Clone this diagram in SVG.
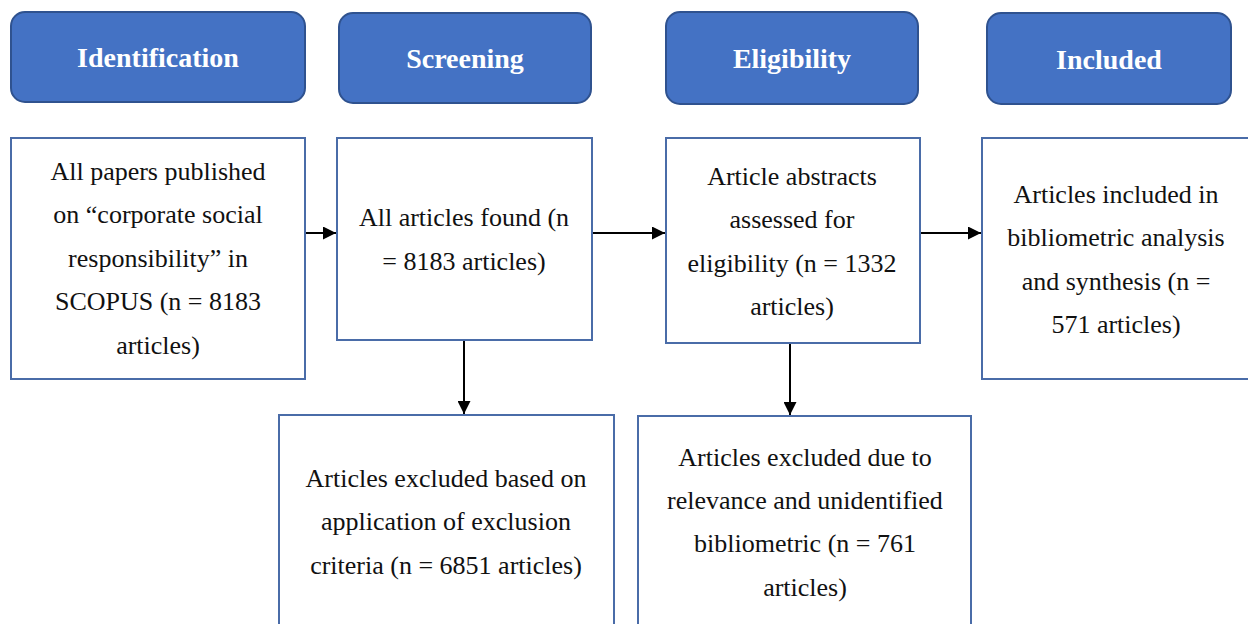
<svg xmlns="http://www.w3.org/2000/svg" width="1248" height="624" viewBox="0 0 1248 624">
  <style>
    .stage { fill: #4472C4; stroke: #2F528F; stroke-width: 2; }
    .stage-label { font-family: "Liberation Serif", "DejaVu Serif", serif; font-size: 28px; font-weight: bold; fill: #FFFFFF; text-anchor: middle; }
    .box { fill: #FFFFFF; stroke: #4A6CA8; stroke-width: 2; }
    .label { font-family: "Liberation Serif", "DejaVu Serif", serif; font-size: 26px; fill: #111111; text-anchor: middle; }
    .edge { stroke: #000000; stroke-width: 2; fill: none; marker-end: url(#arrow); }
  </style>
  <defs>
    <marker id="arrow" viewBox="0 0 10 10" refX="10" refY="5" markerWidth="14" markerHeight="13" markerUnits="userSpaceOnUse" orient="auto">
      <path d="M0,0 L10,5 L0,10 z" fill="#000000"/>
    </marker>
  </defs>
  <rect width="1248" height="624" fill="#FFFFFF"/>

  <!-- stage headers -->
  <g id="stage-identification">
    <rect class="stage" x="11" y="12" width="294" height="90" rx="14"/>
    <text class="stage-label" x="158" y="67">Identification</text>
  </g>
  <g id="stage-screening">
    <rect class="stage" x="339" y="13" width="252" height="90" rx="14"/>
    <text class="stage-label" x="465" y="68">Screening</text>
  </g>
  <g id="stage-eligibility">
    <rect class="stage" x="666" y="12" width="252" height="92" rx="14"/>
    <text class="stage-label" x="792" y="68">Eligibility</text>
  </g>
  <g id="stage-included">
    <rect class="stage" x="987" y="13" width="244" height="91" rx="14"/>
    <text class="stage-label" x="1109" y="69">Included</text>
  </g>

  <!-- process boxes -->
  <g id="node-identified">
    <rect class="box" x="11" y="138" width="294" height="241"/>
    <text class="label" x="158" y="180">All papers published</text>
    <text class="label" x="158" y="223">on “corporate social</text>
    <text class="label" x="158" y="267">responsibility” in</text>
    <text class="label" x="158" y="310">SCOPUS (n = 8183</text>
    <text class="label" x="158" y="354">articles)</text>
  </g>
  <g id="node-screened">
    <rect class="box" x="337" y="138" width="255" height="202"/>
    <text class="label" x="464" y="226">All articles found (n</text>
    <text class="label" x="464" y="270">= 8183 articles)</text>
  </g>
  <g id="node-eligible">
    <rect class="box" x="666" y="138" width="254" height="205"/>
    <text class="label" x="792" y="185">Article abstracts</text>
    <text class="label" x="792" y="228">assessed for</text>
    <text class="label" x="792" y="272">eligibility (n = 1332</text>
    <text class="label" x="792" y="315">articles)</text>
  </g>
  <g id="node-included">
    <rect class="box" x="982" y="138" width="280" height="241"/>
    <text class="label" x="1116" y="203">Articles included in</text>
    <text class="label" x="1116" y="246">bibliometric analysis</text>
    <text class="label" x="1116" y="290">and synthesis (n =</text>
    <text class="label" x="1116" y="333">571 articles)</text>
  </g>
  <g id="node-excluded-criteria">
    <rect class="box" x="279" y="415" width="335" height="230"/>
    <text class="label" x="446" y="487">Articles excluded based on</text>
    <text class="label" x="446" y="530">application of exclusion</text>
    <text class="label" x="446" y="574">criteria (n = 6851 articles)</text>
  </g>
  <g id="node-excluded-relevance">
    <rect class="box" x="638" y="416" width="333" height="230"/>
    <text class="label" x="805" y="466">Articles excluded due to</text>
    <text class="label" x="805" y="509">relevance and unidentified</text>
    <text class="label" x="805" y="552">bibliometric (n = 761</text>
    <text class="label" x="805" y="596">articles)</text>
  </g>

  <!-- connectors -->
  <g id="connectors">
    <line class="edge" x1="306" y1="233" x2="336" y2="233"/>
    <line class="edge" x1="593" y1="233" x2="665" y2="233"/>
    <line class="edge" x1="921" y1="233" x2="981" y2="233"/>
    <line class="edge" x1="464" y1="341" x2="464" y2="414"/>
    <line class="edge" x1="790" y1="344" x2="790" y2="415"/>
  </g>
</svg>
